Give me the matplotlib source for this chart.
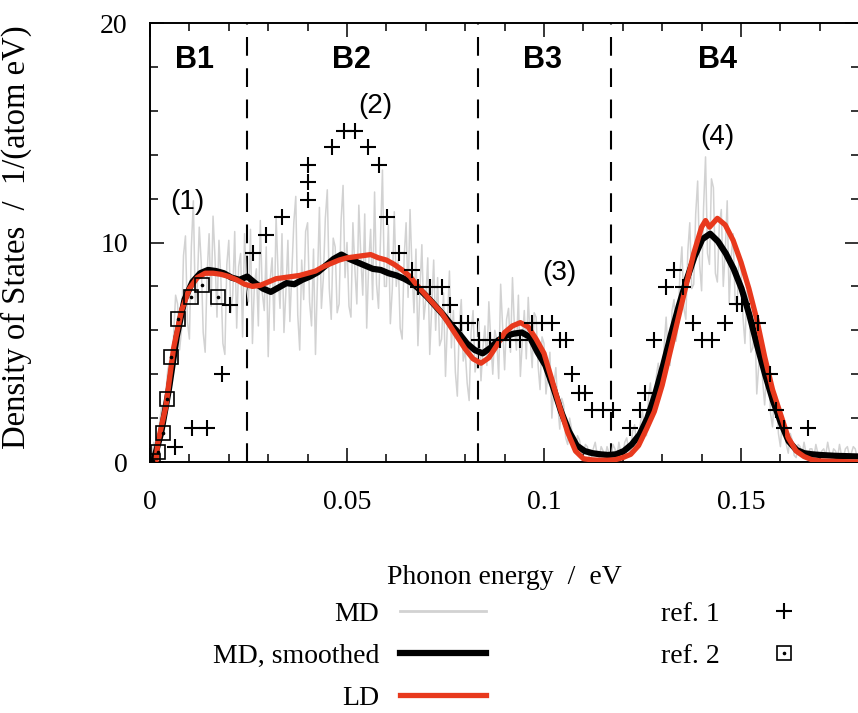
import numpy as np
import matplotlib
matplotlib.use("Agg")
import matplotlib.pyplot as plt
from matplotlib.lines import Line2D
from matplotlib.legend_handler import HandlerTuple

# ---------------- data ----------------
# MD (raw, noisy) density of states, sampled every 0.0005 eV from 0 to 0.18 eV
md_raw = [
    0.0, 0.4, 0.9, 0.5, 0.7, 1.9, 2.6, 1.8, 3.1, 4.2, 4.6, 3.5, 5.8, 7.6, 7.2, 5.1, 6.0, 9.4, 10.3, 6.4,
    5.6, 9.8, 11.9, 7.2, 8.0, 10.7, 9.1, 5.9, 5.0, 8.6, 10.4, 7.1, 11.2, 9.3, 6.6, 10.1, 8.3, 5.4, 4.9, 9.0,
    10.1, 6.8, 7.6, 10.5, 6.1, 8.9, 9.5, 5.7, 10.4, 8.0, 7.3, 10.6, 5.4, 8.1, 8.8, 6.2, 11.0, 7.7, 6.9, 9.8,
    4.8, 8.3, 9.3, 6.0, 11.2, 8.6, 7.0, 10.4, 5.9, 7.8, 10.1, 6.4, 8.6, 10.9, 12.1, 6.7, 5.1, 9.2, 7.4, 10.5,
    10.9, 7.3, 6.2, 9.7, 4.9, 8.3, 11.6, 7.0, 8.4, 11.1, 12.4, 7.9, 6.5, 10.2, 9.8, 6.8, 7.2, 11.0, 12.6, 8.4,
    10.0, 7.1, 6.6, 10.9, 8.8, 7.2, 11.7, 9.4, 7.6, 11.3, 6.1, 9.0, 10.6, 7.4, 12.3, 8.1, 7.0, 10.2, 13.3, 8.0,
    8.0, 10.8, 6.3, 7.9, 11.4, 8.0, 9.2, 6.1, 5.6, 9.3, 10.9, 7.5, 11.5, 8.8, 6.8, 9.7, 5.3, 7.8, 9.9, 6.5,
    7.4, 9.3, 4.9, 7.0, 9.2, 6.0, 8.4, 5.3, 5.6, 7.7, 3.9, 6.4, 8.7, 5.2, 6.9, 4.1, 3.0, 6.2, 7.4, 4.6,
    5.1, 3.6, 2.8, 5.9, 6.9, 4.1, 4.6, 6.4, 3.7, 5.2, 6.2, 4.4, 7.3, 5.5, 4.0, 6.0, 5.6, 3.8, 8.1, 6.2,
    4.2, 6.5, 7.0, 5.0, 8.4, 6.1, 5.1, 7.6, 3.9, 5.5, 6.9, 4.7, 7.5, 5.6, 4.3, 6.8, 6.6, 4.4, 3.3, 5.7,
    5.4, 3.1, 4.0, 5.0, 2.0, 3.5, 4.3, 2.6, 1.5, 2.9, 2.6, 1.1, 0.8, 2.0, 1.5, 0.6, 0.4, 1.2, 1.0, 0.5,
    0.3, 0.8, 0.7, 0.2, 0.2, 0.6, 0.9, 0.3, 0.2, 0.7, 0.5, 0.2, 0.7, 0.4, 0.1, 0.8, 0.6, 0.2, 0.9, 0.4,
    0.3, 0.9, 1.1, 0.5, 0.5, 1.4, 1.7, 0.8, 0.9, 1.8, 2.3, 1.5, 1.2, 2.9, 3.6, 2.1, 2.3, 3.9, 4.5, 3.0,
    3.6, 5.3, 6.6, 4.8, 4.4, 6.9, 7.4, 5.5, 6.2, 8.6, 9.8, 7.0, 6.5, 9.6, 10.9, 7.9, 8.1, 11.3, 12.8, 9.0,
    7.8, 11.6, 13.9, 9.5, 9.0, 12.9, 12.5, 8.6, 8.2, 10.8, 11.5, 8.0, 9.6, 11.9, 7.2, 9.3, 10.4, 7.4, 7.0, 9.5,
    8.9, 6.6, 5.4, 7.8, 7.4, 5.0, 5.2, 6.6, 3.1, 4.4, 5.8, 3.7, 2.6, 4.1, 4.4, 2.2, 1.6, 3.2, 3.0, 1.3,
    0.7, 2.0, 1.9, 0.8, 0.4, 1.3, 1.0, 0.3, 0.2, 0.8, 0.7, 0.3, 0.9, 0.4, 0.2, 0.6, 0.6, 0.2, 0.8, 0.4,
    0.1, 0.5, 0.6, 0.3, 0.9, 0.4, 0.2, 0.6, 0.5, 0.2, 0.8, 0.3, 0.2, 0.6, 0.7, 0.3, 0.4, 0.7, 0.6, 0.2, 0.2,
]
md_raw_energy = np.linspace(0.0, 0.18, len(md_raw))

# MD, smoothed: every 0.002 eV
md_smooth = [
    0.0, 1.3, 3.3, 5.7, 7.4, 8.2, 8.6, 8.75, 8.7, 8.6,
    8.4, 8.3, 8.45, 8.15, 7.9, 7.75, 7.95, 8.15, 8.1, 8.3,
    8.45, 8.65, 8.95, 9.25, 9.45, 9.25, 9.1, 8.95, 8.8, 8.75,
    8.6, 8.5, 8.35, 8.15, 7.85, 7.5, 7.1, 6.7, 6.25, 5.85,
    5.4, 5.1, 4.95, 5.2, 5.55, 5.75, 5.85, 5.9, 5.7, 5.0,
    4.4, 3.4, 2.3, 1.4, 0.75, 0.5, 0.4, 0.35, 0.32, 0.35,
    0.5, 0.8, 1.25, 2.0, 3.1, 4.4, 5.8, 7.1, 8.3, 9.35,
    10.15, 10.4, 10.05, 9.5, 8.8, 7.9, 6.7, 5.3, 4.0, 2.8,
    1.8, 0.95, 0.55, 0.4, 0.35, 0.32, 0.3, 0.28, 0.27, 0.26, 0.25,
]
md_smooth_energy = np.linspace(0.0008, 0.18, len(md_smooth))

# LD
ld_energy = [0.0015, 0.002, 0.004, 0.006, 0.008, 0.010, 0.012, 0.014, 0.016, 0.018,
             0.020, 0.022, 0.024, 0.026, 0.028, 0.030, 0.032, 0.034, 0.036, 0.038,
             0.040, 0.042, 0.044, 0.046, 0.048, 0.050, 0.052, 0.054, 0.056, 0.058,
             0.060, 0.062, 0.064, 0.066, 0.068, 0.070, 0.072, 0.074, 0.076, 0.078,
             0.080, 0.082, 0.084, 0.086, 0.088, 0.090, 0.092, 0.094, 0.096, 0.098,
             0.100, 0.102, 0.104, 0.106, 0.108, 0.110, 0.112, 0.114, 0.116, 0.118,
             0.120, 0.122, 0.124, 0.126, 0.128, 0.130, 0.132, 0.134, 0.136, 0.138,
             0.140, 0.141, 0.142, 0.144, 0.146, 0.148, 0.150, 0.152, 0.154, 0.156,
             0.158, 0.160, 0.162, 0.164, 0.166, 0.168, 0.170, 0.175, 0.180]
ld_dos = [0.0, 0.9, 2.5, 5.2, 6.9, 7.9, 8.4, 8.6, 8.6, 8.55,
          8.45, 8.3, 8.1, 8.0, 8.05, 8.2, 8.35, 8.4, 8.45, 8.5,
          8.6, 8.7, 8.9, 9.05, 9.2, 9.3, 9.35, 9.4, 9.45, 9.3,
          9.2, 9.0, 8.75, 8.45, 8.0, 7.6, 7.2, 6.8, 6.25, 5.7,
          5.15, 4.7, 4.5, 4.75, 5.3, 5.9, 6.2, 6.35, 6.15, 5.6,
          4.95, 3.75, 2.5, 1.35, 0.5, 0.15, 0.1, 0.08, 0.08, 0.1,
          0.2, 0.35, 0.75, 1.5, 2.3, 3.5, 5.0, 6.5, 8.0, 9.5,
          10.7, 11.0, 10.7, 11.1, 10.8, 10.1, 9.1, 7.9, 6.5, 4.8,
          3.3, 2.2, 1.1, 0.5, 0.25, 0.1, 0.05, 0.02, 0.0]

# ref. 1 (+)
ref1_energy = [0.0063, 0.0107, 0.0144, 0.0182, 0.0203, 0.0262, 0.0294, 0.0335, 0.0401, 0.0401,
               0.0401, 0.0462, 0.0492, 0.0520, 0.0553, 0.0582, 0.0602, 0.0632, 0.0665, 0.0680,
               0.0710, 0.0740, 0.0761, 0.0790, 0.0807, 0.0835, 0.0862, 0.0888, 0.0913, 0.0940,
               0.0970, 0.0995, 0.1020, 0.1040, 0.1057, 0.1072, 0.1090, 0.1104, 0.1122, 0.1150,
               0.1175, 0.1218, 0.1244, 0.1256, 0.1280, 0.1310, 0.1330, 0.1353, 0.1378, 0.1400,
               0.1426, 0.1460, 0.1490, 0.1503, 0.1543, 0.1574, 0.1590, 0.1610, 0.1670]
ref1_dos = [0.7, 1.55, 1.55, 4.0, 7.15, 9.5, 10.35, 11.15, 11.95, 12.75,
            13.55, 14.35, 15.1, 15.1, 14.35, 13.55, 11.15, 9.5, 8.75, 7.95,
            7.95, 7.95, 7.15, 6.35, 6.35, 5.55, 5.55, 5.55, 5.55, 5.55,
            6.35, 6.35, 6.35, 5.55, 5.55, 4.0, 3.15, 3.15, 2.35, 2.35,
            2.35, 1.55, 2.35, 3.15, 5.55, 7.95, 8.75, 7.95, 6.35, 5.55,
            5.55, 6.35, 7.2, 7.2, 6.35, 4.0, 2.35, 1.55, 1.55]

# ref. 2 (dotted squares)
ref2_energy = [0.0008, 0.0020, 0.0033, 0.0044, 0.0053, 0.0072, 0.0104, 0.0132, 0.0172]
ref2_dos = [0.05, 0.45, 1.3, 2.85, 4.8, 6.5, 7.5, 8.05, 7.5]

# band boundaries and labels
band_edges = [0.0246, 0.0833, 0.1170]
band_labels = ["B1", "B2", "B3", "B4"]
band_label_x = [0.0112, 0.0510, 0.0995, 0.1440]
peak_labels = ["(1)", "(2)", "(3)", "(4)"]
peak_label_x = [0.0096, 0.0571, 0.1038, 0.1439]
peak_label_y = [11.85, 16.2, 8.6, 14.8]

xticks = [0.0, 0.05, 0.10, 0.15]
xticklabels = ["0", "0.05", "0.1", "0.15"]
yticks = [0, 10, 20]
yticklabels = ["0", "10", "20"]

# ---------------- style ----------------
SERIF = "Liberation Serif"
SANS = "Liberation Sans"
GRAY = "#d2d2d2"
RED = "#e8391d"

fig = plt.figure(figsize=(8.58, 7.13), dpi=100)
ax = fig.add_axes([150 / 858, 1 - 462 / 713, 709.2 / 858, 439 / 713])

ax.plot(md_raw_energy, md_raw, color=GRAY, lw=1.1, zorder=1)
ax.plot(md_smooth_energy, md_smooth, color="black", lw=4.5, zorder=2,
        solid_joinstyle="round", solid_capstyle="round")
ax.plot(ld_energy, ld_dos, color=RED, lw=3.8, zorder=3,
        solid_joinstyle="round", solid_capstyle="round")
ax.plot(ref1_energy, ref1_dos, ls="none", marker="+", ms=12, mew=1.5,
        color="black", zorder=4)
ax.plot(ref2_energy, ref2_dos, ls="none", marker="s", ms=10.5, mew=1.2,
        mfc="none", mec="black", zorder=5)
ax.plot(ref2_energy, ref2_dos, ls="none", marker="o", ms=1.6,
        color="black", zorder=5)

for xe in band_edges:
    ax.axvline(xe, color="black", lw=1.5, ls=(0, (9, 6)), zorder=0.5)

for lab, xb in zip(band_labels, band_label_x):
    ax.text(xb, 18.3, lab, ha="center", va="center", fontsize=22,
            fontweight="bold", family=SANS)
for lab, xp, yp in zip(peak_labels, peak_label_x, peak_label_y):
    ax.text(xp, yp, lab, ha="center", va="center", fontsize=20, family=SANS)

ax.set_xlim(0, 0.18)
ax.set_ylim(0, 20)
ax.set_xticks(xticks)
ax.set_xticklabels(xticklabels, family=SERIF, fontsize=20)
ax.set_yticks(yticks)
ax.set_yticklabels(yticklabels, family=SERIF, fontsize=20)
ax.set_xticks(np.arange(0, 0.1801, 0.01), minor=True)
ax.set_yticks(np.arange(0, 20.1, 2), minor=True)
ax.tick_params(which="both", direction="in", top=True, right=True, width=1.1)
ax.tick_params(which="major", length=10)
ax.tick_params(which="minor", length=5.5)
ax.tick_params(axis="x", which="major", pad=20)
ax.tick_params(axis="y", which="major", pad=16)
for s in ax.spines.values():
    s.set_linewidth(1.4)

ax.set_xlabel("Phonon energy  /  eV", family=SERIF, fontsize=20, labelpad=36)
ax.set_ylabel("Density of States  /  1/(atom eV)", family=SERIF, fontsize=23.5,
              labelpad=10)
ax.yaxis.set_label_coords(-(150 - 32) / 709.2, (462 - 237.5) / 439,
                          transform=ax.transAxes)

# legend
h_md = Line2D([], [], color=GRAY, lw=2.0)
h_sm = Line2D([], [], color="black", lw=4.5)
h_ld = Line2D([], [], color=RED, lw=3.8)
h_r1 = Line2D([], [], ls="none", marker="+", ms=12, mew=1.5, color="black")
h_r2a = Line2D([], [], ls="none", marker="s", ms=10.5, mew=1.2, mfc="none", mec="black")
h_r2b = Line2D([], [], ls="none", marker="o", ms=1.6, color="black")
leg = fig.legend([h_md, h_sm, h_ld, h_r1, (h_r2a, h_r2b)],
                 ["MD", "MD, smoothed", "LD", "ref. 1", "ref. 2"],
                 handler_map={tuple: HandlerTuple(ndivide=1)},
                 ncol=2, markerfirst=False, frameon=False,
                 prop={"family": SERIF, "size": 20},
                 handlelength=3.1, handletextpad=0.75, columnspacing=6.3,
                 labelspacing=0.6, loc="center",
                 bbox_to_anchor=(520 / 858, 1 - 656 / 713),
                 bbox_transform=fig.transFigure, borderpad=0, borderaxespad=0)

fig.savefig("out.png", dpi=100)
